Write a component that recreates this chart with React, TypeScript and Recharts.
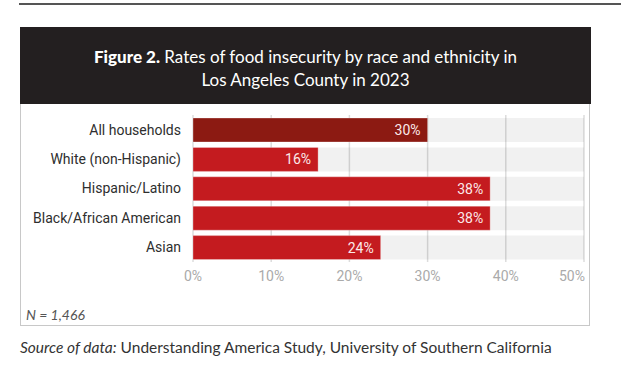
import React from 'react';
import { BarChart, Bar, XAxis, YAxis, CartesianGrid, LabelList, Cell } from 'recharts';

const groups = ['All households', 'White (non-Hispanic)', 'Hispanic/Latino', 'Black/African American', 'Asian'];
const rates = [30, 16, 38, 38, 24];
const xTicks = [0, 10, 20, 30, 40, 50];

const data = groups.map((group, i) => ({ group, rate: rates[i] }));

const barColor = (i: number) => (i === 0 ? '#8c1a12' : '#c41b1f');

// last tick label sits left of its gridline, the rest are centred
const PctTick = (props: any) => {
  const { x, y, payload } = props;
  const last = payload.value === xTicks[xTicks.length - 1];
  return (
    <text
      x={last ? x + 1 : x}
      y={y}
      dy="0.71em"
      textAnchor={last ? 'end' : 'middle'}
      fill="#aaa"
      fontSize={14}
    >
      {payload.value}%
    </text>
  );
};

const App = () => {
  return (
    <div
      style={{
        position: 'absolute',
        left: 0,
        top: 0,
        width: 621,
        height: 373,
        background: '#fff',
        fontFamily: 'Roboto, sans-serif',
        overflow: 'hidden',
      }}
    >
      {/* rule at the very top */}
      <div style={{ position: 'absolute', left: 19, top: 3, width: 602, height: 2, background: '#555' }} />

      {/* figure box */}
      <div
        style={{
          position: 'absolute',
          left: 20,
          top: 27,
          width: 570,
          height: 299,
          border: '1px solid #c8c8c8',
          boxSizing: 'border-box',
        }}
      />
      <div
        style={{
          position: 'absolute',
          left: 20,
          top: 27,
          width: 571,
          height: 77,
          background: '#231f20',
          color: '#fff',
          textAlign: 'center',
          fontFamily: 'Lato, sans-serif',
          fontSize: 17,
          lineHeight: '23px',
          boxSizing: 'border-box',
          paddingTop: 18,
        }}
      >
        <div style={{ whiteSpace: 'nowrap' }}>
          <b style={{ fontWeight: 900 }}>Figure 2.</b> Rates of food insecurity by race and ethnicity in
        </div>
        <div>Los Angeles County in 2023</div>
      </div>

      <div style={{ position: 'absolute', left: 0, top: 0 }}>
        <BarChart
          width={621}
          height={300}
          data={data}
          layout="vertical"
          margin={{ top: 115, right: 37, bottom: 8, left: 20 }}
        >
          <CartesianGrid horizontal={false} stroke="#dcdcdc" strokeWidth={1.5} />
          <XAxis
            type="number"
            domain={[0, 50]}
            ticks={xTicks}
            axisLine={false}
            tickLine={false}
            tick={<PctTick />}
            tickMargin={3}
            height={30}
          />
          <YAxis
            type="category"
            dataKey="group"
            width={173}
            axisLine={false}
            tickLine={false}
            tick={{ fill: '#2e2e2e', fontSize: 14 }}
            tickMargin={6}
          />
          <Bar
            dataKey="rate"
            barSize={24}
            isAnimationActive={false}
            background={{ fill: 'rgba(0,0,0,0.055)' }}
            stroke="rgba(255,255,255,0.3)"
          >
            {data.map((d, i) => (
              <Cell key={d.group} fill={barColor(i)} />
            ))}
            <LabelList
              dataKey="rate"
              position="insideRight"
              offset={7}
              formatter={(v: number) => `${v}%`}
              fill="#fbe9e9"
              fontSize={14}
            />
          </Bar>
        </BarChart>
      </div>

      <div
        style={{
          position: 'absolute',
          left: 26,
          top: 305,
          fontFamily: 'Lato, sans-serif',
          fontStyle: 'italic',
          fontSize: 14,
          color: '#555',
          lineHeight: '20px',
        }}
      >
        N = 1,466
      </div>
      <div
        style={{
          position: 'absolute',
          left: 20,
          top: 337,
          fontFamily: 'Lato, sans-serif',
          fontSize: 15.5,
          color: '#333',
          lineHeight: '20px',
          whiteSpace: 'nowrap',
        }}
      >
        <i>Source of data:</i> Understanding America Study, University of Southern California
      </div>
    </div>
  );
};

export default App;
